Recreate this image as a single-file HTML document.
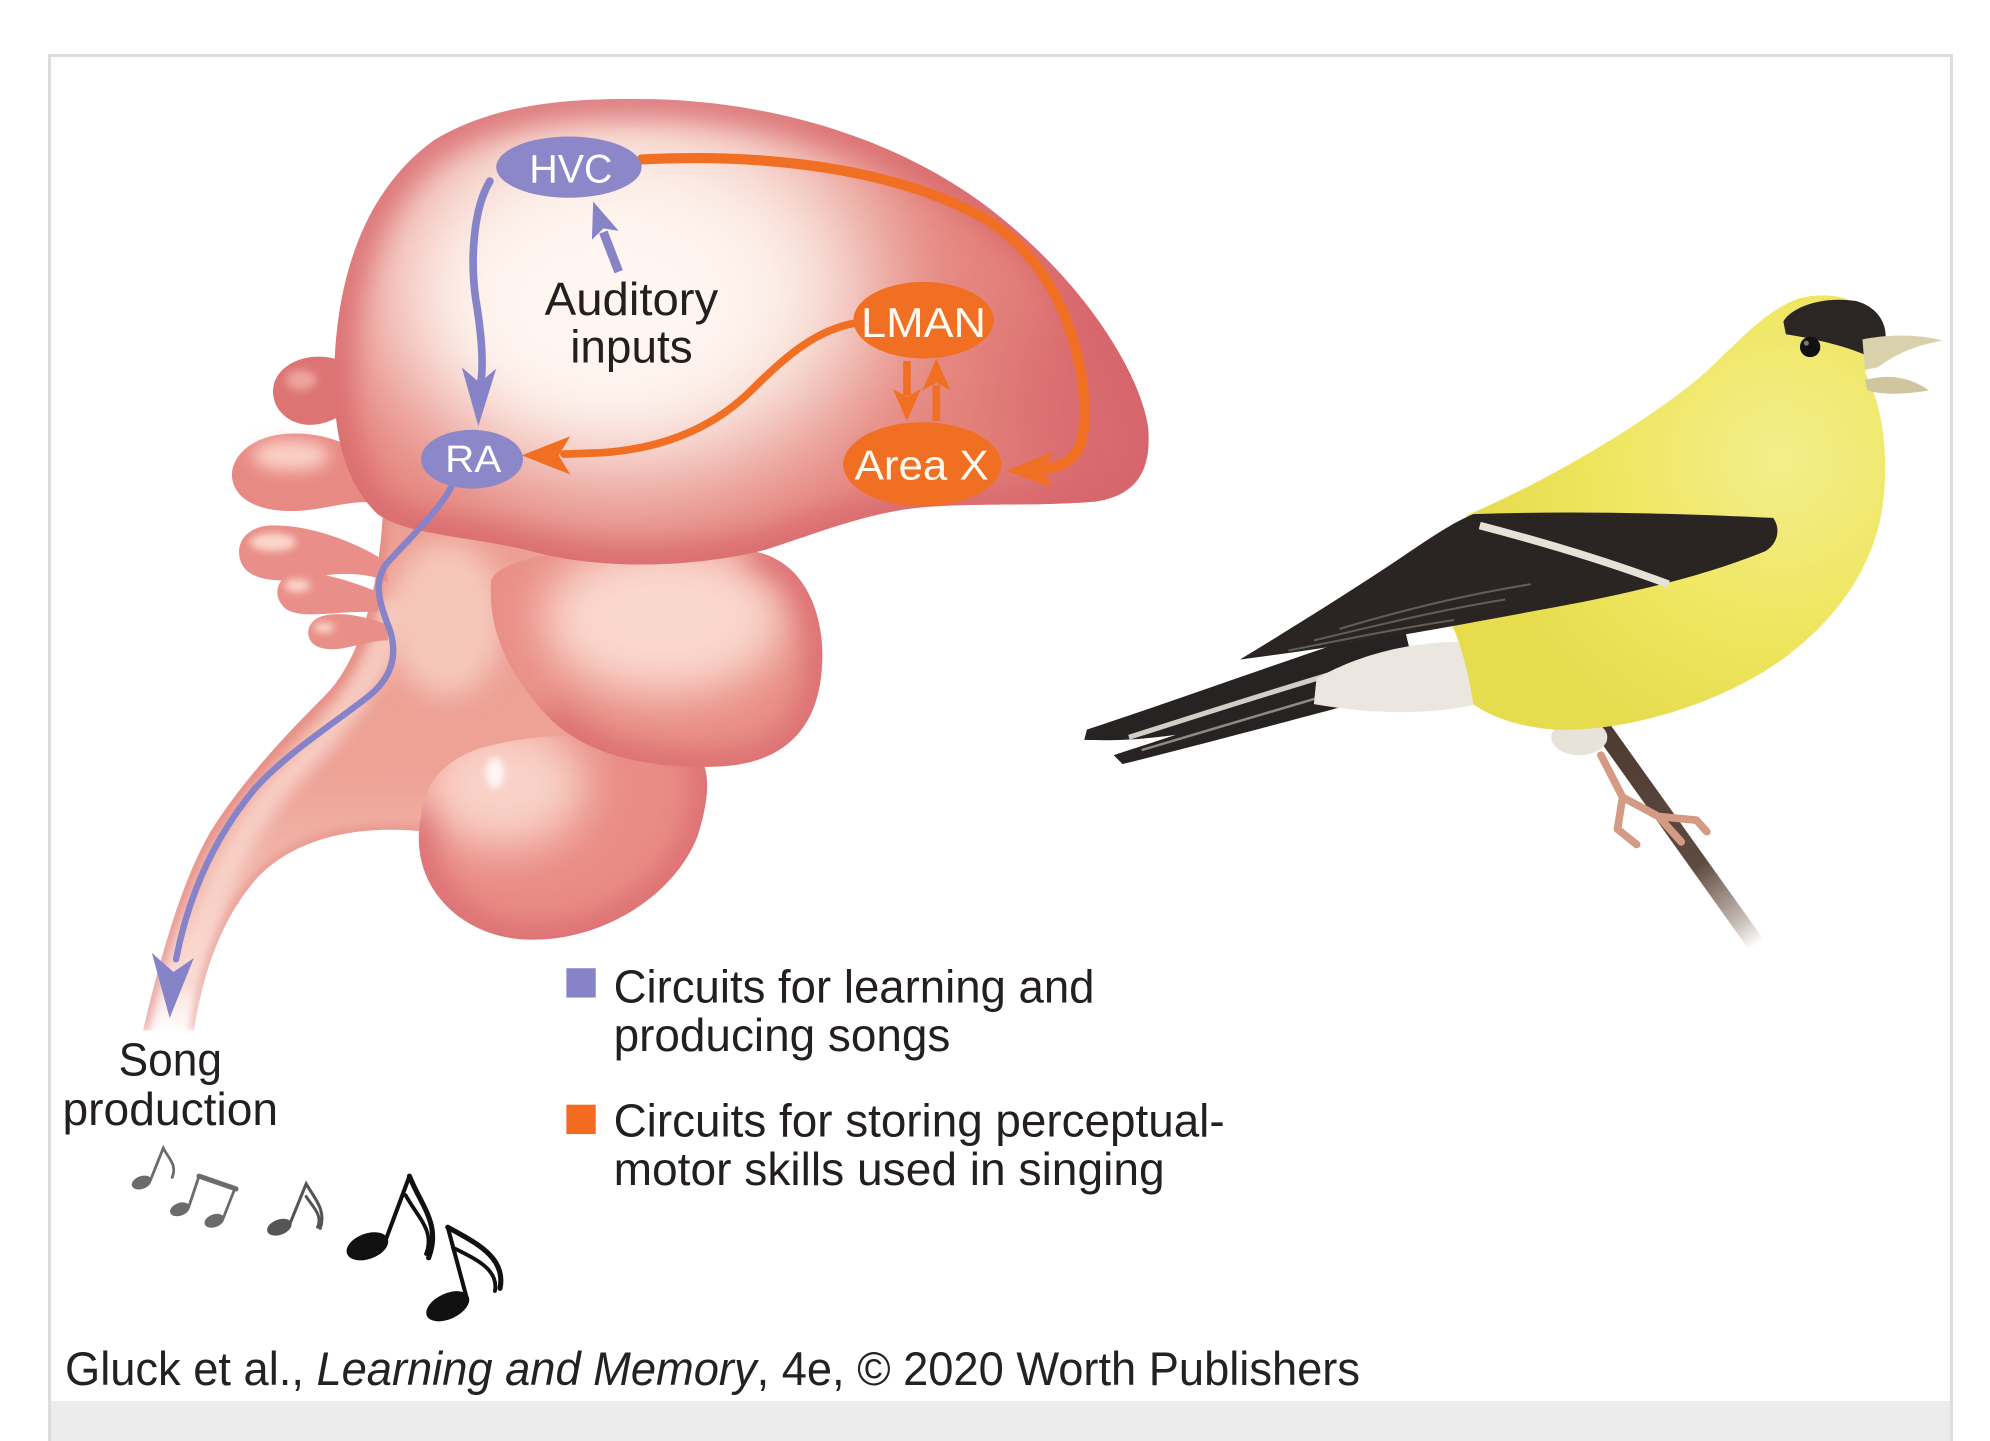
<!DOCTYPE html>
<html>
<head>
<meta charset="utf-8">
<style>
html,body{margin:0;padding:0;background:#fff;width:1990px;height:1441px;overflow:hidden}
svg{display:block}
</style>
</head>
<body>
<svg width="1990" height="1441" viewBox="0 0 1990 1441" xmlns="http://www.w3.org/2000/svg">
<defs>
  <filter id="f3" x="-50%" y="-50%" width="200%" height="200%"><feGaussianBlur stdDeviation="3"/></filter>
  <filter id="f6" x="-50%" y="-50%" width="200%" height="200%"><feGaussianBlur stdDeviation="6"/></filter>
  <filter id="f10" x="-50%" y="-50%" width="200%" height="200%"><feGaussianBlur stdDeviation="10"/></filter>
  <filter id="f18" x="-50%" y="-50%" width="200%" height="200%"><feGaussianBlur stdDeviation="18"/></filter>
  <filter id="f30" x="-50%" y="-50%" width="200%" height="200%"><feGaussianBlur stdDeviation="30"/></filter>
  <filter id="f45" x="-60%" y="-60%" width="220%" height="220%"><feGaussianBlur stdDeviation="45"/></filter>

  <clipPath id="ccer"><path d="M296,403 C272,380 262,345 262,300 C262,220 285,150 340,110 C390,80 450,76 520,78 C620,82 720,115 790,175 C850,225 893,290 900,335 C903,370 890,388 860,393 C820,397 760,394 720,398 C680,402 640,418 600,431 C540,446 470,446 420,433 C370,420 320,420 296,403 Z"/></clipPath>
  <clipPath id="ccb"><path d="M385,455 C395,430 500,425 590,432 C635,440 650,490 643,535 C636,580 605,600 560,601 C505,603 455,590 428,560 C400,530 382,495 385,455 Z"/></clipPath>
  <clipPath id="cll"><path d="M330,640 C320,690 355,730 405,736 C465,742 528,705 547,655 C558,620 556,600 545,588 C500,572 420,572 372,588 C342,600 333,618 330,640 Z"/></clipPath>
  <clipPath id="cst"><path d="M300,405 C296,470 280,520 255,545 C225,575 190,612 165,652 C143,690 127,745 112,808 L152,808 C158,770 170,725 200,690 C225,662 270,645 335,652 L440,640 L480,560 L460,420 Z"/></clipPath>

  <linearGradient id="stemG" gradientUnits="userSpaceOnUse" x1="0" y1="400" x2="0" y2="810">
    <stop offset="0" stop-color="#ec9f93"/>
    <stop offset="0.5" stop-color="#eea296"/>
    <stop offset="0.75" stop-color="#f3bcb1"/>
    <stop offset="0.92" stop-color="#fbe6e1"/>
    <stop offset="1" stop-color="#ffffff"/>
  </linearGradient>
  <linearGradient id="brG" gradientUnits="userSpaceOnUse" x1="1248" y1="560" x2="1378" y2="740">
    <stop offset="0" stop-color="#4b382f"/>
    <stop offset="0.65" stop-color="#5e4a40"/>
    <stop offset="0.9" stop-color="#c8bdb7"/>
    <stop offset="1" stop-color="#ffffff"/>
  </linearGradient>
  <radialGradient id="yelG" gradientUnits="userSpaceOnUse" cx="1395" cy="360" r="240">
    <stop offset="0" stop-color="#f4ee8c"/>
    <stop offset="0.55" stop-color="#efe660"/>
    <stop offset="1" stop-color="#e7dc4e"/>
  </radialGradient>
</defs>

<rect x="0" y="0" width="1990" height="1441" fill="#ffffff"/>
<rect x="49.5" y="55.5" width="1902" height="1400" fill="#ffffff" stroke="#dddddd" stroke-width="3"/>
<rect x="51" y="1401" width="1899" height="40" fill="#ececec"/>

<text x="65" y="1385" font-family="'Liberation Sans', sans-serif" font-size="47" fill="#222" textLength="1295" lengthAdjust="spacingAndGlyphs">Gluck et al., <tspan font-style="italic">Learning and Memory</tspan>, 4e, © 2020 Worth Publishers</text>

<g transform="scale(1.27564)">
  <!-- ===== Brain ===== -->
  <!-- stem + midbrain core -->
  <path d="M300,405 C296,470 280,520 255,545 C225,575 190,612 165,652 C143,690 127,745 112,808 L152,808 C158,770 170,725 200,690 C225,662 270,645 335,652 L440,640 L480,560 L460,420 Z" fill="url(#stemG)"/>
  <g clip-path="url(#cst)">
    <path d="M312,470 C300,530 258,575 222,612 C190,648 165,700 146,775" fill="none" stroke="#f9d8cf" stroke-width="20" opacity="0.8" filter="url(#f6)"/>
    <ellipse cx="350" cy="485" rx="45" ry="60" fill="#f6c6bb" filter="url(#f10)"/>
    <path d="M300,405 C296,470 280,520 255,545 C225,575 190,612 165,652 C143,690 127,745 112,808" fill="none" stroke="#e0817d" stroke-width="10" opacity="0.55" filter="url(#f3)"/>
    <path d="M152,808 C158,770 170,725 200,690 C225,662 270,645 335,652" fill="none" stroke="#e0817d" stroke-width="8" opacity="0.45" filter="url(#f3)"/>
  </g>

  <!-- lower lobe -->
  <path d="M330,640 C320,690 355,730 405,736 C465,742 528,705 547,655 C558,620 556,600 545,588 C500,572 420,572 372,588 C342,600 333,618 330,640 Z" fill="#e98c85"/>
  <g clip-path="url(#cll)">
    <ellipse cx="395" cy="615" rx="65" ry="50" fill="#f9d2c7" filter="url(#f18)"/>
    <path d="M330,640 C320,690 355,730 405,736 C465,742 528,705 547,655 C558,620 556,600 545,588" fill="none" stroke="#d5606a" stroke-width="24" opacity="0.65" filter="url(#f10)"/>
    <ellipse cx="388" cy="606" rx="7" ry="12" fill="#ffffff" opacity="0.85" filter="url(#f3)"/>
  </g>

  <!-- cerebellum -->
  <path d="M385,455 C395,430 500,425 590,432 C635,440 650,490 643,535 C636,580 605,600 560,601 C505,603 455,590 428,560 C400,530 382,495 385,455 Z" fill="#e98f86"/>
  <g clip-path="url(#ccb)">
    <ellipse cx="520" cy="485" rx="95" ry="60" fill="#fad7cd" filter="url(#f18)"/>
    <path d="M590,432 C635,440 650,490 643,535 C636,580 605,600 560,601 C505,603 455,590 428,560" fill="none" stroke="#d6636b" stroke-width="26" opacity="0.7" filter="url(#f10)"/>
  </g>

  <!-- left lobes -->
  <path d="M272,285 C252,274 222,280 215,300 C210,318 225,334 245,333 C258,332 268,326 274,320 Z" fill="#dd7474"/>
  <ellipse cx="236" cy="298" rx="12" ry="8" fill="#eda39b" filter="url(#f3)"/>
  <path d="M298,372 C285,350 255,338 225,340 C195,342 180,360 182,375 C185,395 210,403 240,400 C265,397 285,390 300,396 Z" fill="#e88a84"/>
  <ellipse cx="228" cy="357" rx="30" ry="12" fill="#f9d0c6" filter="url(#f6)"/>
  <path d="M302,440 C280,425 240,410 210,412 C190,414 183,430 190,443 C198,457 225,457 250,452 C270,448 290,450 304,456 Z" fill="#e98e88"/>
  <ellipse cx="214" cy="425" rx="18" ry="7" fill="#fbd6cc" filter="url(#f3)"/>
  <path d="M298,465 C275,455 245,446 228,450 C215,455 214,470 225,478 C240,486 265,478 296,480 Z" fill="#e98f89"/>
  <ellipse cx="233" cy="459" rx="10" ry="5" fill="#fbd6cc" filter="url(#f3)"/>
  <path d="M304,490 C285,482 260,478 248,485 C238,492 240,505 252,508 C268,512 285,502 304,502 Z" fill="#e98f89"/>
  <ellipse cx="254" cy="492" rx="8" ry="4" fill="#fbd6cc" filter="url(#f3)"/>

  <!-- cerebrum -->
  <path d="M296,403 C272,380 262,345 262,300 C262,220 285,150 340,110 C390,80 450,76 520,78 C620,82 720,115 790,175 C850,225 893,290 900,335 C903,370 890,388 860,393 C820,397 760,394 720,398 C680,402 640,418 600,431 C540,446 470,446 420,433 C370,420 320,420 296,403 Z" fill="#e4827b"/>
  <g clip-path="url(#ccer)">
    <ellipse cx="490" cy="225" rx="200" ry="155" fill="#fcefe8" filter="url(#f45)"/>
    <ellipse cx="475" cy="240" rx="110" ry="80" fill="#fff6f2" filter="url(#f30)"/>
    <ellipse cx="885" cy="320" rx="90" ry="120" fill="#cf5868" opacity="0.55" filter="url(#f30)"/>
    <path d="M296,403 C272,380 262,345 262,300 C262,220 285,150 340,110 C390,80 450,76 520,78 C620,82 720,115 790,175 C850,225 893,290 900,335 C903,370 890,388 860,393 C820,397 760,394 720,398 C680,402 640,418 600,431 C540,446 470,446 420,433 C370,420 320,420 296,403 Z" fill="none" stroke="#d6646b" stroke-width="30" opacity="0.7" filter="url(#f10)"/>
  </g>

  <!-- ===== Connectors ===== -->
  <path d="M503,125 C600,120 700,132 770,170 C830,205 852,280 850,330 C849,352 842,364 822,367" fill="none" stroke="#f06f22" stroke-width="8" stroke-linecap="round"/>
  <path d="M789,369 L826,354 L818,368 L824,382 Z" fill="#f06f22"/>
  <path d="M672,253 C640,258 615,280 590,305 C560,335 520,352 470,355 L442,356" fill="none" stroke="#f06f22" stroke-width="6" stroke-linecap="round"/>
  <path d="M409,357 L447,342 L438,357 L447,372 Z" fill="#f06f22"/>
  <line x1="711" y1="283" x2="711" y2="310" stroke="#f06f22" stroke-width="6"/>
  <path d="M711,330 L700,305 L711,311 L722,305 Z" fill="#f06f22"/>
  <line x1="734" y1="330" x2="734" y2="302" stroke="#f06f22" stroke-width="6"/>
  <path d="M734,281 L723,306 L734,300 L745,306 Z" fill="#f06f22"/>

  <path d="M384,142 C372,162 368,200 373,235 C378,265 379,285 377,300" fill="none" stroke="#8783c8" stroke-width="6" stroke-linecap="round"/>
  <path d="M375,334 L362,288 L376,300 L389,289 Z" fill="#8783c8"/>
  <line x1="485" y1="213" x2="473" y2="182" stroke="#8783c8" stroke-width="7"/>
  <path d="M465,158 L485,181 L473,179 L464,188 Z" fill="#8783c8"/>
  <path d="M354,381 C345,400 315,428 303,442 C292,456 298,475 305,492 C312,512 308,530 290,545 C265,565 225,590 200,618 C175,648 150,690 138,752" fill="none" stroke="#8783c8" stroke-width="5" stroke-linecap="round"/>
  <path d="M133,798 L119,747 L136,762 L152,751 Z" fill="#8783c8"/>

  <!-- ===== Nodes ===== -->
  <ellipse cx="446" cy="131" rx="57" ry="24" fill="#8b87c8"/>
  <text x="415" y="143" font-family="'Liberation Sans', sans-serif" font-size="31" fill="#ffffff" textLength="65" lengthAdjust="spacingAndGlyphs">HVC</text>
  <ellipse cx="370" cy="360" rx="40" ry="23" fill="#8b87c8"/>
  <text x="349" y="370" font-family="'Liberation Sans', sans-serif" font-size="30" fill="#ffffff" textLength="44" lengthAdjust="spacingAndGlyphs">RA</text>
  <ellipse cx="724" cy="251" rx="55" ry="30" fill="#f06f22"/>
  <text x="675" y="264" font-family="'Liberation Sans', sans-serif" font-size="33" fill="#fffaf0" textLength="98" lengthAdjust="spacingAndGlyphs">LMAN</text>
  <ellipse cx="723" cy="364" rx="62" ry="33" fill="#f06f22"/>
  <text x="670" y="376" font-family="'Liberation Sans', sans-serif" font-size="33" fill="#fffaf0" textLength="105" lengthAdjust="spacingAndGlyphs">Area X</text>

  <!-- ===== Labels ===== -->
  <g font-family="'Liberation Sans', sans-serif" font-size="36" fill="#231f20">
    <text x="427" y="247" textLength="136" lengthAdjust="spacingAndGlyphs">Auditory</text>
    <text x="447" y="284" textLength="96" lengthAdjust="spacingAndGlyphs">inputs</text>
    <text x="93" y="843" textLength="81" lengthAdjust="spacingAndGlyphs">Song</text>
    <text x="49" y="882" textLength="169" lengthAdjust="spacingAndGlyphs">production</text>
    <text x="481" y="786" textLength="377" lengthAdjust="spacingAndGlyphs">Circuits for learning and</text>
    <text x="481" y="824" textLength="264" lengthAdjust="spacingAndGlyphs">producing songs</text>
    <text x="481" y="891" textLength="479" lengthAdjust="spacingAndGlyphs">Circuits for storing perceptual-</text>
    <text x="481" y="929" textLength="432" lengthAdjust="spacingAndGlyphs">motor skills used in singing</text>
  </g>
  <rect x="444" y="759" width="23" height="23" fill="#8783c8"/>
  <rect x="444" y="866" width="23" height="23" fill="#f26b21"/>

  <!-- ===== Music notes ===== -->
  <g fill="none" stroke-linecap="round">
    <ellipse cx="111" cy="927" rx="8" ry="5" transform="rotate(-20 111 927)" fill="#6b6b6b"/>
    <path d="M118,925 L128,900 C132,908 139,913 135,923" stroke="#6b6b6b" stroke-width="2.2"/>
    <ellipse cx="141" cy="948" rx="8" ry="5" transform="rotate(-20 141 948)" fill="#6b6b6b"/>
    <ellipse cx="168" cy="957" rx="8" ry="5" transform="rotate(-20 168 957)" fill="#6b6b6b"/>
    <path d="M148,946 L156,922 M175,955 L184,932" stroke="#6b6b6b" stroke-width="2.2"/>
    <path d="M156,922 L185,932" stroke="#6b6b6b" stroke-width="4"/>
    <ellipse cx="219" cy="962" rx="10" ry="6" transform="rotate(-20 219 962)" fill="#555"/>
    <path d="M227,960 L240,928 C247,940 256,949 251,963 M240,938 C246,947 253,953 249,962" stroke="#555" stroke-width="2.4"/>
    <ellipse cx="288" cy="977" rx="17" ry="10" transform="rotate(-20 288 977)" fill="#111"/>
    <path d="M302,973 L321,922" stroke="#111" stroke-width="3.2"/>
    <path d="M321,922 C330,945 346,960 336,986" stroke="#111" stroke-width="4"/>
    <path d="M318,937 C328,955 341,965 334,983" stroke="#111" stroke-width="3"/>
    <ellipse cx="351" cy="1024" rx="18" ry="10" transform="rotate(-25 351 1024)" fill="#111"/>
    <path d="M366,1018 L351,962" stroke="#111" stroke-width="3.2"/>
    <path d="M351,962 C372,974 397,985 392,1010" stroke="#111" stroke-width="4"/>
    <path d="M355,978 C373,987 391,995 388,1012" stroke="#111" stroke-width="3"/>
  </g>

  <!-- ===== Bird ===== -->
  <line x1="1248" y1="560" x2="1375" y2="738" stroke="url(#brG)" stroke-width="14" stroke-linecap="round"/>
  <path d="M1100,488 C1040,506 960,536 852,572 L850,580 C880,581 900,579 922,576 L873,592 L880,599 C940,584 1000,568 1045,556 C1075,548 1095,540 1110,530 Z" fill="#282323"/>
  <path d="M1045,528 C995,543 935,562 885,578" fill="none" stroke="#d2cdc7" stroke-width="4"/>
  <path d="M1040,545 C990,560 940,575 895,588" fill="none" stroke="#8f8984" stroke-width="2"/>
  <path d="M1032,532 C1070,510 1120,500 1162,504 L1172,548 C1130,562 1075,560 1030,552 Z" fill="#ebe7e0"/>
  <ellipse cx="1238" cy="578" rx="22" ry="14" fill="#e7e3db"/>
  <path d="M1150,404 C1210,378 1280,338 1330,298 C1360,272 1380,245 1410,234 C1440,226 1470,238 1474,262 L1462,292 C1476,318 1482,360 1475,402 C1466,452 1432,496 1382,527 C1330,558 1268,573 1222,572 C1195,571 1170,563 1155,552 C1150,520 1140,480 1120,465 Z" fill="url(#yelG)"/>
  <path d="M1155,403 C1240,400 1330,403 1390,406 C1396,414 1394,426 1384,432 C1340,450 1290,462 1240,472 C1160,487 1060,506 972,517 C1010,494 1060,463 1100,436 C1122,421 1140,409 1155,403 Z" fill="#2a2523"/>
  <path d="M1160,412 C1210,425 1260,440 1308,458" fill="none" stroke="#e6e2d8" stroke-width="6"/>
  <path d="M1030,502 C1080,490 1130,478 1180,470 M1050,493 C1100,478 1150,466 1200,458 M1010,510 C1060,500 1100,492 1140,486" fill="none" stroke="#8a837e" stroke-width="1.6" opacity="0.6"/>
  <path d="M1255,592 L1272,625 L1300,640 L1330,643 M1272,625 L1268,650 L1283,662 M1300,640 L1318,660 M1330,643 L1338,652" fill="none" stroke="#d39a84" stroke-width="6" stroke-linecap="round" stroke-linejoin="round"/>
  <path d="M1398,252 C1405,240 1430,232 1455,236 C1470,240 1480,252 1478,268 L1466,280 C1450,272 1425,266 1400,262 Z" fill="#2b2624"/>
  <circle cx="1419" cy="272" r="8" fill="#111"/>
  <circle cx="1416" cy="269" r="2" fill="#777"/>
  <path d="M1460,266 C1480,262 1505,262 1523,267 C1505,270 1488,276 1472,288 L1462,290 Z" fill="#d9d0ac"/>
  <path d="M1462,298 C1478,293 1497,295 1512,306 C1495,309 1477,310 1464,306 Z" fill="#cfc6a0"/>
</g>
</svg>
</body>
</html>
